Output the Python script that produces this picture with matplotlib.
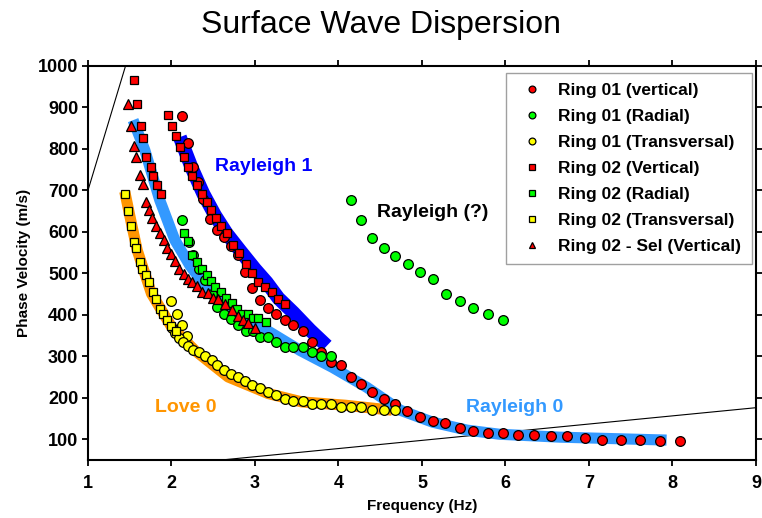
import matplotlib
matplotlib.use('Agg')
import matplotlib.pyplot as plt

plt.rcParams['font.family'] = ['Liberation Sans', 'DejaVu Sans']

# Ring 01 (vertical) - red circles
r1v_x = [2.13, 2.20, 2.26, 2.32, 2.38, 2.46, 2.55, 2.63, 2.71, 2.80, 2.88, 2.97, 3.06, 3.15, 3.25,
         3.36, 3.46, 3.57, 3.68, 3.79, 3.91, 4.03, 4.15, 4.27, 4.40, 4.55, 4.68, 4.82, 4.98, 5.13,
         5.28, 5.455, 5.615, 5.79, 5.97, 6.15, 6.345, 6.54, 6.74, 6.95, 7.16, 7.38, 7.61, 7.85, 8.09]
r1v_y = [878, 815, 757, 720, 680, 630, 604, 588, 565, 543, 503, 465, 435, 417, 403,
         388, 375, 361, 334, 310, 287, 278, 249, 232, 214, 198, 186, 167, 154, 144,
         138, 128, 120, 115, 115, 110, 110, 107, 107, 103, 99, 99, 99, 95, 95]

# Ring 01 (Radial) - green circles
r1r_x = [2.12, 2.21, 2.26, 2.33, 2.40, 2.48, 2.55, 2.63, 2.71, 2.80, 2.89, 2.98, 3.06, 3.15, 3.25,
         3.36, 3.46, 3.57, 3.68, 3.79, 3.91,
         4.15, 4.27, 4.40, 4.55, 4.68, 4.83, 4.98, 5.13, 5.29, 5.455, 5.615, 5.79, 5.97]
r1r_y = [629, 575, 543, 510, 483, 451, 419, 403, 389, 375, 361, 361, 347, 347, 334,
         322, 322, 322, 310, 300, 300,
         676, 628, 584, 562, 541, 522, 503, 485, 449, 433, 417, 401, 388]

# Ring 01 (Transversal) - yellow circles
r1t_x = [2.00, 2.07, 2.13, 2.19, 2.01, 2.04, 2.09, 2.14, 2.20, 2.26, 2.33, 2.40, 2.48, 2.55, 2.63,
         2.71, 2.80, 2.88, 2.97, 3.06, 3.155, 3.255, 3.36, 3.46, 3.57, 3.68, 3.79, 3.91, 4.03,
         4.15, 4.27, 4.40, 4.55, 4.68]
r1t_y = [433, 403, 375, 348, 367, 356, 345, 334, 324, 314, 310, 300, 290, 278, 268,
         258, 249, 240, 230, 224, 214, 206, 198, 192, 192, 186, 186, 184, 178,
         178, 178, 171, 171, 171]

# Ring 02 (Vertical) - red squares
r2v_x = [1.55, 1.59, 1.63, 1.66, 1.70, 1.75, 1.78, 1.83, 1.87,
         1.96, 2.01, 2.05, 2.10, 2.15, 2.20, 2.25, 2.31, 2.36, 2.42, 2.47, 2.53, 2.59, 2.66,
         2.74, 2.81, 2.89, 2.96, 3.04, 3.12, 3.20, 3.28, 3.36]
r2v_y = [966, 908, 854, 827, 779, 756, 734, 712, 691,
         881, 854, 830, 805, 781, 757, 734, 712, 690, 672, 652, 632, 614, 596,
         568, 548, 523, 500, 479, 467, 455, 439, 425]

# Ring 02 (Radial) - green squares
r2r_x = [2.15, 2.20, 2.25, 2.31, 2.36, 2.42, 2.47, 2.52, 2.59, 2.65, 2.72, 2.79, 2.85, 2.92,
         2.98, 3.04, 3.13]
r2r_y = [596, 578, 545, 527, 511, 495, 481, 467, 455, 441, 429, 413, 401, 401,
         391, 391, 383]

# Ring 02 (Transversal) - yellow squares
r2t_x = [1.44, 1.48, 1.51, 1.55, 1.58, 1.62, 1.65, 1.70, 1.73, 1.78, 1.82, 1.86, 1.90, 1.95,
         2.00, 2.05]
r2t_y = [690, 650, 613, 576, 560, 527, 511, 495, 479, 455, 439, 415, 403, 388, 372, 360]

# Ring 02 - Sel (Vertical) - red triangles
r2s_x = [1.48, 1.51, 1.55, 1.58, 1.62, 1.66, 1.70, 1.73, 1.77, 1.82, 1.86, 1.91, 1.95, 1.99,
         2.04, 2.09, 2.15, 2.20, 2.25, 2.31, 2.36, 2.44, 2.50, 2.56, 2.64, 2.72, 2.80, 2.86,
         2.92, 3.00]
r2s_y = [909, 856, 806, 781, 736, 714, 672, 653, 634, 613, 596, 580, 562, 546,
         530, 511, 498, 485, 478, 469, 455, 452, 441, 437, 425, 411, 396, 387,
         379, 369]

# model curves (thick bands)
ray0_x = [1.54, 1.68, 1.86, 2.04, 2.22, 2.46, 2.82, 3.18, 3.54, 3.93, 4.34, 4.74, 5.13, 5.54,
          5.93, 6.65, 7.93]
ray0_y = [869, 797, 676, 580, 519, 454, 399, 358, 314, 273, 225, 170, 141, 122, 112, 105, 98]
ray1_x = [2.10, 2.24, 2.38, 2.52, 2.66, 2.82, 3.00, 3.14, 3.28, 3.46, 3.66, 3.86]
ray1_y = [828, 755, 692, 640, 596, 555, 510, 478, 440, 405, 363, 325]
love0_x = [1.44, 1.52, 1.59, 1.76, 2.00, 2.28, 2.68, 3.16, 3.56, 4.08, 4.64]
love0_y = [697, 620, 555, 451, 371, 314, 250, 210, 190, 182, 170]

# thin black reference lines
line1_x = [1.0, 1.45]
line1_y = [700, 1000]
line2_x = [2.6, 9.0]
line2_y = [50, 176]

fig = plt.figure(figsize=(7.62, 5.18), dpi=100)
ax = fig.add_axes([0.1155, 0.112, 0.8765, 0.761])

ax.plot(line1_x, line1_y, color='black', lw=0.8, zorder=1)
ax.plot(line2_x, line2_y, color='black', lw=0.8, zorder=1)

ax.plot(love0_x, love0_y, color='#FF9500', lw=8, solid_capstyle='butt', zorder=2)
ax.plot(ray0_x, ray0_y, color='#3399FF', lw=8, solid_capstyle='butt', zorder=2)
ax.plot(ray1_x, ray1_y, color='#0000FF', lw=10, solid_capstyle='butt', zorder=2)

mk = dict(ls='none', mec='black', mew=0.9, zorder=3)
ax.plot(r1v_x, r1v_y, marker='o', ms=7, mfc='#FF0000', label='Ring 01 (vertical)', **mk)
ax.plot(r1r_x, r1r_y, marker='o', ms=7, mfc='#00FF00', label='Ring 01 (Radial)', **mk)
ax.plot(r1t_x, r1t_y, marker='o', ms=7, mfc='#FFFF00', label='Ring 01 (Transversal)', **mk)
ax.plot(r2v_x, r2v_y, marker='s', ms=5.5, mfc='#FF0000', label='Ring 02 (Vertical)', **mk)
ax.plot(r2r_x, r2r_y, marker='s', ms=5.5, mfc='#00FF00', label='Ring 02 (Radial)', **mk)
ax.plot(r2t_x, r2t_y, marker='s', ms=5.5, mfc='#FFFF00', label='Ring 02 (Transversal)', **mk)
ax.plot(r2s_x, r2s_y, marker='^', ms=7, mfc='#FF0000', label='Ring 02 - Sel (Vertical)', **mk)

ax.text(2.52, 757, 'Rayleigh 1', color='#0000FF', fontsize=14, fontweight='bold', va='center')
ax.text(4.46, 647, 'Rayleigh (?)', color='black', fontsize=14, fontweight='bold', va='center')
ax.text(1.80, 177, 'Love 0', color='#FF9500', fontsize=14, fontweight='bold', va='center')
ax.text(5.53, 177, 'Rayleigh 0', color='#3399FF', fontsize=14, fontweight='bold', va='center')

ax.set_xlim(1, 9)
ax.set_ylim(50, 1000)
ax.set_xticks(range(1, 10))
ax.set_yticks(range(100, 1001, 100))
ax.tick_params(direction='out', length=4.5, width=1.3, top=True, right=True, labelsize=13)
ax.tick_params(axis='x', pad=6)
ax.tick_params(axis='y', pad=2.5)
for lab in ax.get_xticklabels() + ax.get_yticklabels():
    lab.set_fontweight('bold')
for sp in ax.spines.values():
    sp.set_linewidth(1.5)

ax.set_xlabel('Frequency (Hz)', fontsize=11, fontweight='bold', labelpad=5)
ax.set_ylabel('Phase Velocity (m/s)', fontsize=11, fontweight='bold', labelpad=5)

leg = ax.legend(loc='upper right', bbox_to_anchor=(1 - 4 / 668, 1 - 7 / 392),
                prop={'weight': 'bold', 'size': 12.5},
                frameon=True, fancybox=False, edgecolor='#888888', markerscale=0.7,
                labelspacing=0.62, handletextpad=0.6, borderpad=0.6, borderaxespad=0,
                handlelength=1.8)
leg.get_frame().set_linewidth(1.0)

fig.suptitle('Surface Wave Dispersion', fontsize=23, y=0.98)

fig.savefig('out.png', dpi=100)
